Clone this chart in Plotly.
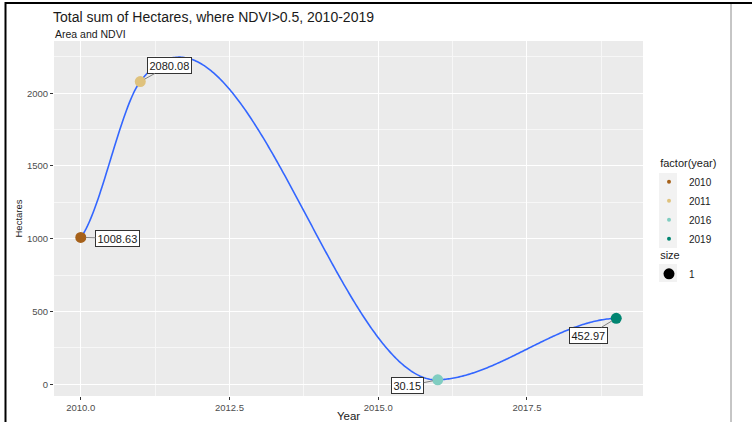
import numpy as np
import plotly.graph_objects as go

# ---------------- data ----------------
years = [2010, 2011, 2016, 2019]
hectares = [1008.63, 2080.08, 30.15, 452.97]
year_names = ["2010", "2011", "2016", "2019"]
point_labels = ["1008.63", "2080.08", "30.15", "452.97"]
x_tick_values = [2010.0, 2012.5, 2015.0, 2017.5]
x_tick_labels = ["2010.0", "2012.5", "2015.0", "2017.5"]
y_tick_values = [0, 500, 1000, 1500, 2000]
y_tick_labels = ["0", "500", "1000", "1500", "2000"]
size_legend_labels = ["1"]

# ---------------- styles ----------------
year_colors = ["#A6611A", "#DFC27D", "#80CDC1", "#018571"]
label_offsets = [(37, 1), (29, -16), (-30, 6), (-28, 17)]  # pixel offsets of label boxes
FONT = "Liberation Sans, Arial, Helvetica, sans-serif"


def loess_like_smooth(x, y, n=400):
    """Local-quadratic (loess-like) slopes at each observation, joined by cubic Hermite pieces."""
    x = np.asarray(x, float)
    y = np.asarray(y, float)
    m = np.zeros_like(x)
    for i in range(len(x)):
        d = np.abs(x - x[i])
        d[i] = np.inf
        j = int(np.argmin(d))
        dx, dy = x[j] - x[i], y[j] - y[i]
        m[i] = dy * dx / (dx ** 2 + dx ** 4)
    xs = np.linspace(x[0], x[-1], n)
    ys = np.empty_like(xs)
    for k, xv in enumerate(xs):
        i = min(int(np.searchsorted(x, xv, side="right")) - 1, len(x) - 2)
        h = x[i + 1] - x[i]
        t = (xv - x[i]) / h
        h00 = 2 * t ** 3 - 3 * t ** 2 + 1
        h10 = t ** 3 - 2 * t ** 2 + t
        h01 = -2 * t ** 3 + 3 * t ** 2
        h11 = t ** 3 - t ** 2
        ys[k] = h00 * y[i] + h10 * h * m[i] + h01 * y[i + 1] + h11 * h * m[i + 1]
    return xs, ys


sx, sy = loess_like_smooth(years, hectares)

# ggplot-like 5% expansion
xlo, xhi = min(years), max(years)
xpad = 0.05 * (xhi - xlo)
yall = np.concatenate([sy, hectares])
ylo, yhi = float(yall.min()), float(yall.max())
ypad = 0.05 * (yhi - ylo)

fig = go.Figure()

fig.add_trace(go.Scatter(
    x=sx, y=sy, mode="lines",
    line=dict(color="#3366FF", width=1.6, simplify=False),
    showlegend=False, hoverinfo="skip",
))

for yr, val, col, nm in zip(years, hectares, year_colors, year_names):
    fig.add_trace(go.Scatter(
        x=[yr], y=[val], mode="markers",
        marker=dict(color=col, size=11),
        showlegend=False,
    ))
    # legend-only entry (small dot like ggplot colour key)
    fig.add_trace(go.Scatter(
        x=[None], y=[None], mode="markers",
        marker=dict(color=col, size=4),
        name=nm, legend="legend", showlegend=True,
    ))

fig.add_trace(go.Scatter(
    x=[None], y=[None], mode="markers",
    marker=dict(color="black", size=11),
    name=size_legend_labels[0], legend="legend2", showlegend=True,
))

for yr, val, txt, (ox, oy) in zip(years, hectares, point_labels, label_offsets):
    fig.add_annotation(
        x=yr, y=val, xref="x", yref="y", text=txt,
        showarrow=True, arrowhead=0, arrowwidth=1, arrowcolor="#7F7F7F",
        ax=ox, ay=oy, standoff=5,
        bgcolor="white", bordercolor="#333333", borderwidth=1, borderpad=1.5,
        font=dict(family=FONT, size=11, color="#1A1A1A"),
    )

L, T, PW, PH = 54, 41, 589, 355
px = lambda v: (v - L) / PW
py = lambda v: (T + PH - v) / PH

# subtitle
fig.add_annotation(
    xref="paper", yref="paper", x=px(53), y=py(33.5),
    xanchor="left", yanchor="middle", showarrow=False,
    text="Area and NDVI", font=dict(family=FONT, size=10.5, color="#1A1A1A"),
)

# legend key backgrounds (ggplot grey95 key boxes)
fig.add_shape(type="rect", xref="paper", yref="paper", x0=px(659), x1=px(677), y0=py(173), y1=py(248),
              line=dict(width=0), fillcolor="#F2F2F2", layer="below")
fig.add_shape(type="rect", xref="paper", yref="paper", x0=px(659), x1=px(677), y0=py(264), y1=py(282),
              line=dict(width=0), fillcolor="#F2F2F2", layer="below")

# screenshot frame lines
fig.add_shape(type="line", xref="paper", yref="paper", x0=px(5.5), x1=px(5.5), y0=py(2), y1=py(422),
              line=dict(color="black", width=2))
fig.add_shape(type="line", xref="paper", yref="paper", x0=px(5), x1=px(752), y0=py(3), y1=py(3),
              line=dict(color="black", width=2))
fig.add_shape(type="line", xref="paper", yref="paper", x0=px(731), x1=px(731), y0=py(4), y1=py(422),
              line=dict(color="#8C8C8C", width=1))

fig.update_layout(
    width=752, height=422,
    margin=dict(l=L, r=752 - L - PW, t=T, b=422 - T - PH, autoexpand=False),
    paper_bgcolor="white", plot_bgcolor="#EBEBEB",
    font=dict(family=FONT),
    title=dict(
        text="Total sum of Hectares, where NDVI>0.5, 2010-2019",
        x=53 / 752, xanchor="left", xref="container",
        y=1 - 17.5 / 422, yanchor="middle", yref="container",
        font=dict(family=FONT, size=14, color="#1A1A1A"),
    ),
    xaxis=dict(
        range=[xlo - xpad, xhi + xpad], automargin=False,
        tickmode="array", tickvals=x_tick_values, ticktext=x_tick_labels,
        showgrid=True, gridcolor="white", gridwidth=1.1, zeroline=False,
        ticks="outside", ticklen=3, tickcolor="#333333", tickwidth=1,
        tickfont=dict(family=FONT, size=9.5, color="#4D4D4D"),
        minor=dict(tick0=2010, dtick=1.25, showgrid=True, gridcolor="#F7F7F7", gridwidth=0.6, ticks=""),
        title=dict(text="Year", standoff=2, font=dict(family=FONT, size=11.5, color="#1A1A1A")),
        showline=False,
    ),
    yaxis=dict(
        range=[ylo - ypad, yhi + ypad], automargin=False,
        tickmode="array", tickvals=y_tick_values, ticktext=y_tick_labels,
        showgrid=True, gridcolor="white", gridwidth=1.1, zeroline=False,
        ticks="outside", ticklen=3, tickcolor="#333333", tickwidth=1,
        tickfont=dict(family=FONT, size=9.5, color="#4D4D4D"),
        minor=dict(tick0=0, dtick=250, showgrid=True, gridcolor="#F7F7F7", gridwidth=0.6, ticks=""),
        title=dict(text="Hectares", standoff=2, font=dict(family=FONT, size=9.5, color="#1A1A1A")),
        showline=False,
    ),
    legend=dict(
        title=dict(text="&nbsp;&nbsp;&nbsp;factor(year)",
                   font=dict(family=FONT, size=11, color="#1A1A1A")),
        x=px(649), y=py(153), xanchor="left", yanchor="top",
        font=dict(family=FONT, size=10, color="#1A1A1A"),
        bgcolor="rgba(0,0,0,0)", itemwidth=30, tracegroupgap=0,
    ),
    legend2=dict(
        title=dict(text="&nbsp;&nbsp;&nbsp;size",
                   font=dict(family=FONT, size=11, color="#1A1A1A")),
        x=px(649), y=py(245), xanchor="left", yanchor="top",
        font=dict(family=FONT, size=10, color="#1A1A1A"),
        bgcolor="rgba(0,0,0,0)", itemwidth=30,
    ),
)

fig.write_html("out.html")
